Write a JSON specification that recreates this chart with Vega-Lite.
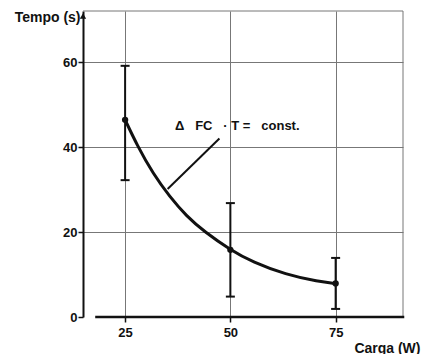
{
  "$schema": "https://vega.github.io/schema/vega-lite/v6.json",
  "width": 320,
  "height": 306,
  "autosize": {"type": "none"},
  "padding": {"left": 83, "top": 11, "right": 18, "bottom": 37},
  "background": "white",
  "config": {"view": {"stroke": null}, "font": "Liberation Sans"},
  "datasets": {
    "points": [
      {"carga": 25, "tempo": 46.4, "lo": 32.2, "hi": 59.1},
      {"carga": 50, "tempo": 15.8, "lo": 4.8, "hi": 26.8},
      {"carga": 75, "tempo": 7.9, "lo": 1.9, "hi": 13.9}
    ],
    "curve": [
      {"carga": 25, "tempo": 46.4},
      {"carga": 27.8, "tempo": 40.5},
      {"carga": 31.7, "tempo": 33.6},
      {"carga": 35.6, "tempo": 28.3},
      {"carga": 39.5, "tempo": 23.8},
      {"carga": 43.9, "tempo": 20},
      {"carga": 50, "tempo": 15.8},
      {"carga": 55.3, "tempo": 12.9},
      {"carga": 63.1, "tempo": 10.0},
      {"carga": 71, "tempo": 8.3},
      {"carga": 75, "tempo": 7.9}
    ],
    "leader": [
      {"carga": 47.4, "tempo": 42.0},
      {"carga": 35.1, "tempo": 30.1}
    ],
    "label": [
      {"carga": 36.85, "tempo": 44.9, "text": "Δ\u00a0\u00a0\u00a0FC\u00a0\u00a0\u00a0·\u00a0T\u00a0=\u00a0\u00a0\u00a0const."}
    ],
    "one": [{"k": 1}]
  },
  "layer": [
    {
      "data": {"name": "curve"},
      "mark": {"type": "line", "interpolate": "basis", "color": "#111", "strokeWidth": 3},
      "encoding": {
        "x": {
          "field": "carga", "type": "quantitative", "title": "Carga (W)",
          "scale": {"domain": [15, 91], "nice": false, "zero": false},
          "axis": {
            "values": [25, 50, 75], "domain": false, "tickSize": 5, "tickColor": "#111", "tickWidth": 1.5,
            "labelFontSize": 13, "labelFontWeight": "bold", "labelColor": "#111", "labelPadding": 4,
            "grid": true, "gridColor": "#777", "gridWidth": 1,
            "titleFontSize": 14, "titleFontWeight": "bold", "titleColor": "#111",
            "titleAlign": "right", "titleBaseline": "middle", "titleX": 337, "titleY": 31
          }
        },
        "y": {
          "field": "tempo", "type": "quantitative", "title": "Tempo (s)",
          "scale": {"domain": [0, 72], "nice": false},
          "axis": {
            "values": [0, 20, 40, 60], "domainColor": "#111", "domainWidth": 2,
            "tickSize": 5, "tickColor": "#111", "tickWidth": 1.5,
            "labelFontSize": 13, "labelFontWeight": "bold", "labelColor": "#111", "labelPadding": 1,
            "grid": true, "gridColor": "#777", "gridWidth": 1,
            "gridOpacity": {"condition": {"test": "datum.value == 0", "value": 0}, "value": 1},
            "titleAngle": 0, "titleFontSize": 14, "titleFontWeight": "bold", "titleColor": "#111",
            "titleAlign": "right", "titleBaseline": "middle", "titleX": -3, "titleY": 6
          }
        }
      }
    },
    {
      "data": {"name": "one"},
      "mark": {"type": "rule", "color": "#777", "strokeWidth": 1},
      "encoding": {"y": {"datum": 72}, "x": {"datum": 15}, "x2": {"datum": 91}}
    },
    {
      "data": {"name": "one"},
      "mark": {"type": "rule", "color": "#777", "strokeWidth": 1},
      "encoding": {"x": {"datum": 91}, "y": {"datum": 0}, "y2": {"datum": 72}}
    },
    {
      "data": {"name": "one"},
      "mark": {"type": "rule", "color": "#111", "strokeWidth": 2.5},
      "encoding": {"y": {"datum": 0}, "x": {"datum": 17.9}, "x2": {"datum": 91.3}}
    },
    {
      "data": {"name": "one"},
      "mark": {"type": "point", "shape": "triangle-up", "filled": true, "color": "#111", "size": 40, "opacity": 1},
      "encoding": {"x": {"datum": 15}, "y": {"datum": 70.8}}
    },
    {
      "data": {"name": "points"},
      "mark": {"type": "rule", "color": "#111", "strokeWidth": 2},
      "encoding": {
        "x": {"field": "carga", "type": "quantitative", "title": "Carga (W)"},
        "y": {"field": "lo", "type": "quantitative", "title": "Tempo (s)"},
        "y2": {"field": "hi"}
      }
    },
    {
      "data": {"name": "points"},
      "mark": {"type": "tick", "orient": "horizontal", "color": "#111", "size": 9, "thickness": 2, "opacity": 1},
      "encoding": {
        "x": {"field": "carga", "type": "quantitative", "title": "Carga (W)"},
        "y": {"field": "lo", "type": "quantitative", "title": "Tempo (s)"}
      }
    },
    {
      "data": {"name": "points"},
      "mark": {"type": "tick", "orient": "horizontal", "color": "#111", "size": 9, "thickness": 2, "opacity": 1},
      "encoding": {
        "x": {"field": "carga", "type": "quantitative", "title": "Carga (W)"},
        "y": {"field": "hi", "type": "quantitative", "title": "Tempo (s)"}
      }
    },
    {
      "data": {"name": "points"},
      "mark": {"type": "point", "filled": true, "color": "#111", "size": 40, "opacity": 1},
      "encoding": {
        "x": {"field": "carga", "type": "quantitative", "title": "Carga (W)"},
        "y": {"field": "tempo", "type": "quantitative", "title": "Tempo (s)"}
      }
    },
    {
      "data": {"name": "leader"},
      "mark": {"type": "line", "color": "#111", "strokeWidth": 2},
      "encoding": {
        "x": {"field": "carga", "type": "quantitative", "title": "Carga (W)"},
        "y": {"field": "tempo", "type": "quantitative", "title": "Tempo (s)"}
      }
    },
    {
      "data": {"name": "label"},
      "mark": {"type": "text", "align": "left", "baseline": "middle", "fontSize": 13, "fontWeight": "bold", "color": "#111"},
      "encoding": {
        "x": {"field": "carga", "type": "quantitative", "title": "Carga (W)"},
        "y": {"field": "tempo", "type": "quantitative", "title": "Tempo (s)"},
        "text": {"field": "text"}
      }
    }
  ]
}
